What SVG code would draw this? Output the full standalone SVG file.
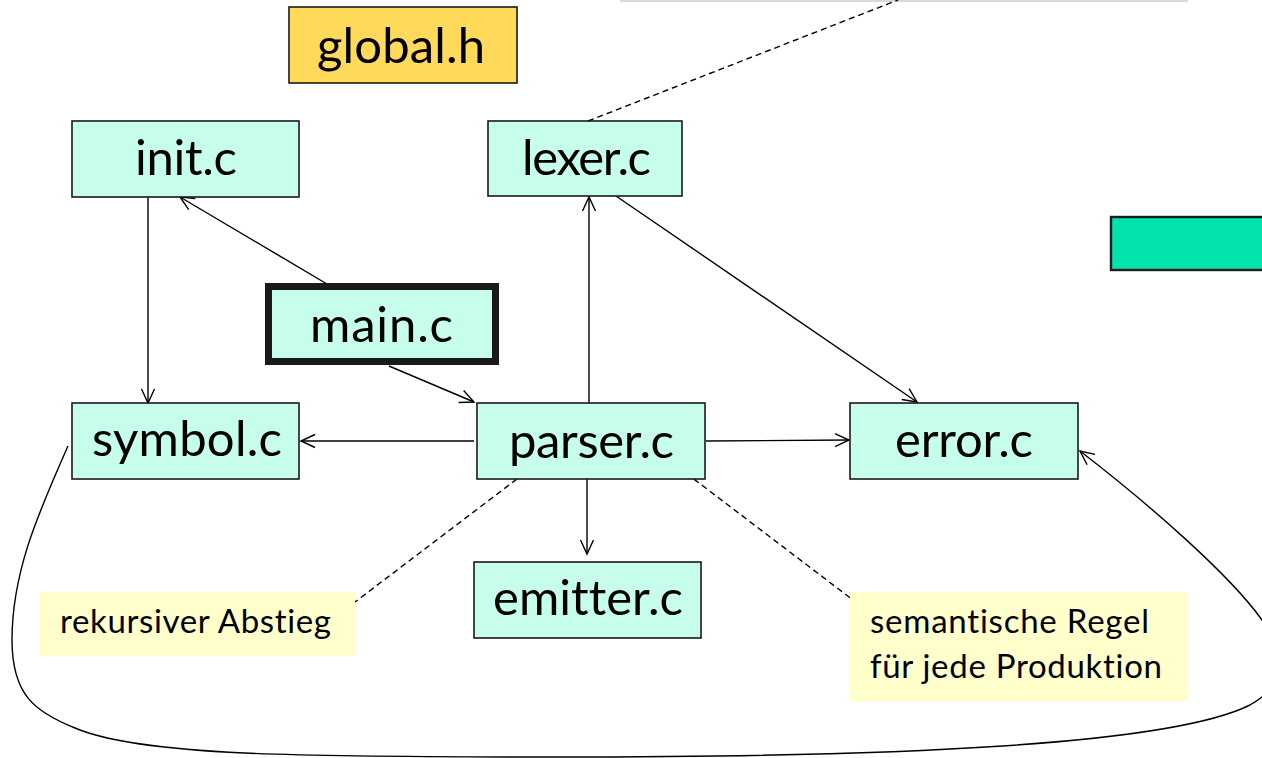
<svg xmlns="http://www.w3.org/2000/svg" width="1262" height="758" viewBox="0 0 1262 758">
  <style>
    .file { fill: #C6FDEB; stroke: #1a1a1a; stroke-width: 1.6; }
    .hdr { fill: #FFD95A; stroke: #1a1a1a; stroke-width: 1.6; }
    .note { fill: #FFFFCC; stroke: none; }
    text { font-family: Lato, "Liberation Sans", sans-serif; fill: #000; font-variant-ligatures: none; font-feature-settings: "liga" 0, "clig" 0; }
    .big { font-size: 49px; text-anchor: middle; }
    .small { font-size: 33px; }
    .edge { fill: none; stroke: #000; stroke-width: 1.4; }
    .dash { fill: none; stroke: #000; stroke-width: 1.4; stroke-dasharray: 6 4; }
  </style>
  <defs>
    <marker id="open-arrow" markerUnits="userSpaceOnUse" markerWidth="20" markerHeight="20" viewBox="-16 -10 20 20" refX="0" refY="0" orient="auto">
      <path d="M-14,-6.5 L0,0 L-14,6.5" fill="none" stroke="#000" stroke-width="1.4"/>
    </marker>
  </defs>

  <rect width="1262" height="758" fill="#ffffff"/>

  <!-- thin grey rule along the top edge -->
  <rect x="620" y="0" width="568" height="2" fill="#d9d9d9"/>

  <!-- dependency arrows and annotation leaders -->
  <g id="connectors">
    <line class="edge" x1="148" y1="197" x2="148" y2="403" marker-end="url(#open-arrow)"/>
    <line class="edge" x1="327" y1="284" x2="180" y2="197" marker-end="url(#open-arrow)"/>
    <line class="edge" x1="389" y1="366" x2="474" y2="402" marker-end="url(#open-arrow)"/>
    <line class="edge" x1="589" y1="403" x2="589" y2="197" marker-end="url(#open-arrow)"/>
    <line class="edge" x1="616" y1="196" x2="917" y2="402" marker-end="url(#open-arrow)"/>
    <line class="edge" x1="474" y1="441" x2="301" y2="441" marker-end="url(#open-arrow)"/>
    <line class="edge" x1="706" y1="441" x2="849" y2="440" marker-end="url(#open-arrow)"/>
    <line class="edge" x1="587" y1="479" x2="587" y2="554" marker-end="url(#open-arrow)"/>
    <path class="edge" d="M68,446 C40,510 12,570 12,640 C12,695 35,712 75,728 C140,756 300,757 560,757 C900,757 1170,745 1250,705 C1290,682 1285,652 1262,620 C1230,575 1150,505 1080,451" marker-end="url(#open-arrow)"/>
    <line class="dash" x1="588" y1="121" x2="898" y2="0"/>
    <line class="dash" x1="517" y1="479" x2="355" y2="602"/>
    <line class="dash" x1="678" y1="467" x2="853" y2="600"/>
  </g>

  <g id="global-h">
    <rect class="hdr" x="289" y="7" width="228" height="76"/>
    <text class="big" x="401" y="63" textLength="168">global.h</text>
  </g>

  <g id="init-c">
    <rect class="file" x="72" y="121" width="227" height="76"/>
    <text class="big" x="186" y="175" textLength="102">init.c</text>
  </g>

  <g id="lexer-c">
    <rect class="file" x="488" y="121" width="194" height="75"/>
    <text class="big" x="586.5" y="175" textLength="129">lexer.c</text>
  </g>

  <g id="main-c">
    <rect class="file" x="268.5" y="286.5" width="227" height="75" style="stroke-width:7"/>
    <text class="big" x="381.5" y="342" textLength="143">main.c</text>
  </g>

  <g id="symbol-c">
    <rect class="file" x="72" y="403" width="227" height="76"/>
    <text class="big" x="187" y="456" textLength="190">symbol.c</text>
  </g>

  <g id="parser-c">
    <rect class="file" x="477" y="403" width="228" height="76"/>
    <text class="big" x="591.5" y="458" textLength="165">parser.c</text>
  </g>

  <g id="error-c">
    <rect class="file" x="850" y="403" width="228" height="76"/>
    <text class="big" x="964" y="457" textLength="138">error.c</text>
  </g>

  <g id="emitter-c">
    <rect class="file" x="474" y="562" width="227" height="76"/>
    <text class="big" x="588" y="615" textLength="190">emitter.c</text>
  </g>

  <g id="green-block">
    <rect x="1111" y="217" width="160" height="53" fill="#00E3AA" stroke="#1a1a1a" stroke-width="2.4"/>
  </g>

  <g id="note-recursive">
    <rect class="note" x="40" y="592" width="315" height="64"/>
    <text class="small" x="60" y="633" textLength="271">rekursiver Abstieg</text>
  </g>

  <g id="note-semantic">
    <rect class="note" x="850" y="592" width="337" height="109"/>
    <text class="small" x="870" y="633" textLength="279">semantische Regel</text>
    <text class="small" x="870" y="678" textLength="292">für jede Produktion</text>
  </g>
</svg>
